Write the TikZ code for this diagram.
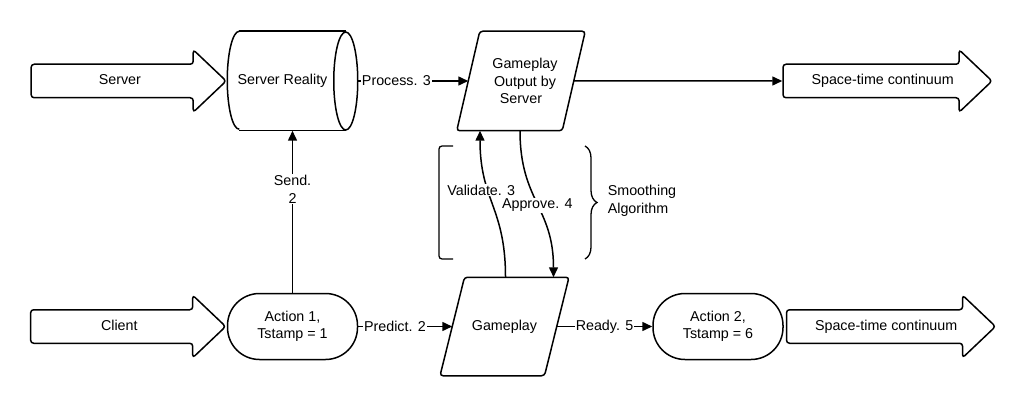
\documentclass[tikz,border=0pt]{standalone}
\usepackage{fontspec}
\setmainfont{Liberation Sans}
\usetikzlibrary{shapes.arrows, arrows.meta, positioning, calc, decorations.pathreplacing}

\begin{document}
\begin{tikzpicture}[
  x=1pt, y=-1pt,
  font=\fontsize{14.3}{17.5}\selectfont,
  line width=1.5pt,
  bigarrow/.style={
    single arrow, draw, rounded corners=3pt,
    single arrow tip angle=87, single arrow head extend=14.5pt,
    text height=10pt, text depth=3pt, inner ysep=9.5pt, inner xsep=4pt
  },
  drum/.style={minimum width=129pt, minimum height=98pt, inner sep=0pt},
  para/.style={
    minimum width=104pt, minimum height=98pt,
    align=center, inner sep=0pt
  },
  stadium/.style={
    rectangle, draw, rounded corners=32pt,
    minimum width=130pt, minimum height=66pt, align=center
  },
  arr/.style={-{Triangle[length=10pt, width=9pt]}},
  lbl/.style={fill=white, inner sep=1pt, align=center},
]
\useasboundingbox[fill=white] (0,0) rectangle (1024,406);

% server side
\node[drum] (real) at (292.5,81) {Server Reality\hspace*{20pt}};
\draw ([xshift=12pt]real.north west) -- ([xshift=-12pt]real.north east)
      ([xshift=12pt]real.south west) -- ([xshift=-12pt]real.south east);
\draw ([xshift=12pt]real.north west)
      arc[start angle=90, end angle=270, x radius=12pt, y radius=49pt];
\draw ([xshift=-12pt]real.east) ellipse[x radius=12pt, y radius=49pt];

\node[bigarrow, minimum height=195pt, left=0pt of real] (srv) {Server};
\node[para, right=110.5pt of real] (out)
      {\hspace*{8pt}Gameplay\\\hspace*{8pt}Output by\\Server};
\draw[rounded corners=3pt]
      ([xshift=-11.5pt]out.south west) -- ([xshift=11.5pt]out.north west)
   -- ([xshift=11.5pt]out.north east) -- ([xshift=-11.5pt]out.south east)
   -- cycle;
\node[bigarrow, minimum height=209pt, right=208.5pt of out] (st1)
      {\hspace*{8pt}Space-time continuum};

% client side
\node[stadium, below=162pt of real] (act1) {Action 1,\\Tstamp = 1};
\node[bigarrow, minimum height=195pt, left=0pt of act1] (client) {Client};
\node[para, minimum width=103pt, minimum height=97pt, right=94pt of act1] (gp)
      {Gameplay};
\draw[rounded corners=3pt]
      ([xshift=-12.25pt]gp.south west) -- ([xshift=12.25pt]gp.north west)
   -- ([xshift=12.25pt]gp.north east) -- ([xshift=-12.25pt]gp.south east)
   -- cycle;
\node[stadium, right=95.5pt of gp] (act2) {Action 2,\\Tstamp = 6};
\node[bigarrow, minimum height=209pt, right=2pt of act2] (st2)
      {\hspace*{8pt}Space-time continuum};

% smoothing between the two
\node[align=left] (smooth) at (642,201) {Smoothing\\Algorithm};
\draw[line width=1.3pt, rounded corners=3pt]
      (453,146) -- (439,146) -- (439,259) -- (453,259);
\draw[line width=1.3pt, decorate, decoration={brace, amplitude=12pt}]
      (585,146) -- (585,259);

\draw[arr] (real) -- node[lbl, pos=0.35] {Process. 3} (out);
\draw[arr] (out)  -- (st1);
\draw[arr] (act1) -- node[lbl, pos=0.64] {Send.\\2} (real);
\draw[arr] (act1) -- node[lbl, pos=0.39] {Predict. 2} (gp);
\draw[arr] (gp)   -- node[lbl] {Ready. 5} (act2);
\draw[arr] ($(gp.north)+(1,0)$)
      .. controls +(0,-70) and +(0,70) ..
      node[lbl, pos=0.62, xshift=-7pt] {Validate. 3} ($(out.south)+(-41,0)$);
\draw[arr] ($(out.south)+(-1,0)$)
      .. controls +(0,70) and +(0,-70) ..
      node[lbl, pos=0.51] {Approve. 4} ($(gp.north)+(49,0)$);

\end{tikzpicture}
\end{document}
